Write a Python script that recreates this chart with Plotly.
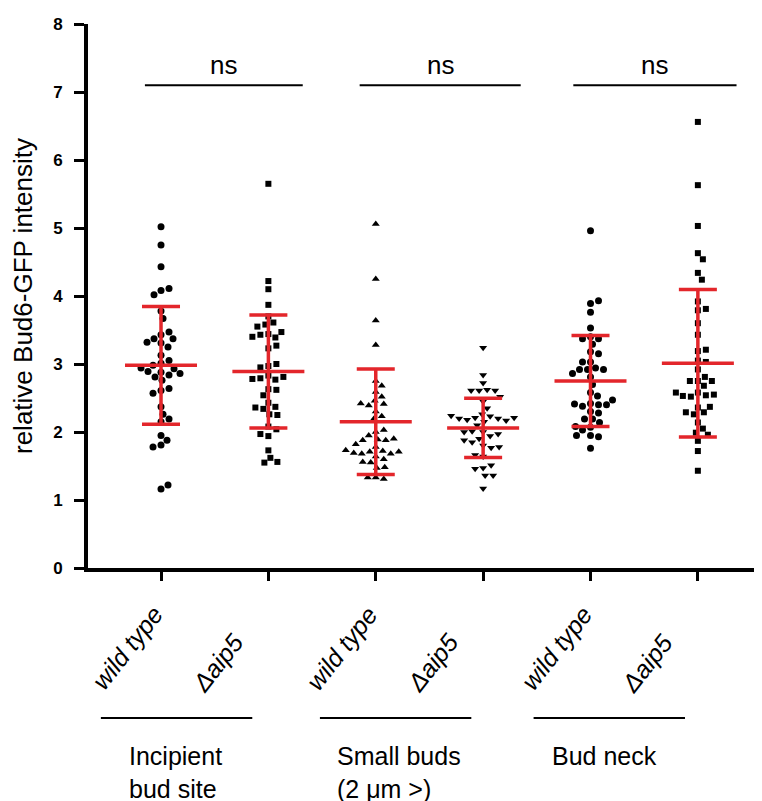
import plotly.graph_objects as go

# ---------------- data ----------------
categories = ["wild type", "Δaip5", "wild type", "Δaip5", "wild type", "Δaip5"]
groups = ["Incipient<br>bud site", "Small buds<br>(2 μm >)", "Bud neck"]

incipient_wt = [5.02, 4.75, 4.43, 4.08, 4.11, 4.02, 3.78, 3.67, 3.43, 3.47, 3.31, 3.37,
                3.37, 3.32, 3.25, 3.13, 3.01, 3.05, 2.98, 2.88, 2.84, 2.93, 2.89, 2.94,
                2.86, 2.81, 2.76, 2.61, 2.64, 2.57, 2.37, 2.26, 2.15, 2.19, 1.95, 1.88,
                1.81, 1.78, 1.16, 1.22]
incipient_ko = [5.65, 4.22, 4.10, 3.87, 3.70, 3.61, 3.58, 3.55, 3.44, 3.39, 3.43, 3.47,
                3.40, 3.23, 3.27, 2.97, 3.00, 2.95, 2.83, 2.77, 2.79, 2.81, 2.78, 2.63,
                2.62, 2.54, 2.43, 2.37, 2.34, 2.26, 2.36, 2.25, 2.08, 2.04, 1.94, 1.97,
                1.73, 1.62, 1.55, 1.56]
small_wt = [5.06, 4.25, 3.64, 3.28, 2.75, 2.68, 2.59, 2.52, 2.46, 2.41, 2.39, 2.42,
            2.30, 2.23, 2.19, 2.00, 2.03, 1.95, 1.89, 1.88, 1.88, 1.90, 1.78, 1.82,
            1.72, 1.71, 1.68, 1.64, 1.68, 1.69, 1.71, 1.73, 1.60, 1.55, 1.56, 1.47,
            1.48, 1.33, 1.31, 1.33]
small_ko = [3.24, 2.84, 2.72, 2.62, 2.61, 2.61, 2.61, 2.52, 2.45, 2.35, 2.26, 2.23,
            2.21, 2.15, 2.20, 2.18, 2.17, 2.20, 2.21, 2.24, 2.10, 2.00, 1.94, 2.01,
            1.97, 2.00, 1.90, 1.85, 1.88, 1.80, 1.77, 1.78, 1.64, 1.66, 1.47, 1.51,
            1.46, 1.36, 1.36, 1.17]
neck_wt = [4.96, 3.89, 3.93, 3.76, 3.53, 3.40, 3.37, 3.37, 3.29, 3.18, 3.15, 3.03,
           2.94, 2.92, 2.92, 2.92, 3.03, 2.86, 2.81, 2.70, 2.58, 2.53, 2.42, 2.40,
           2.38, 2.40, 2.41, 2.47, 2.30, 2.28, 2.19, 2.19, 2.14, 2.07, 2.03, 2.08,
           1.95, 1.93, 1.95, 1.76]
neck_ko = [6.56, 5.63, 5.03, 4.63, 4.54, 4.34, 4.24, 3.79, 3.81, 3.92, 3.60, 3.43,
           3.19, 3.21, 3.05, 3.03, 2.92, 2.75, 2.68, 2.75, 2.81, 2.75, 2.58, 2.54,
           2.52, 2.53, 2.55, 2.58, 2.36, 2.29, 2.26, 2.29, 2.37, 2.14, 2.05, 1.99,
           1.96, 1.87, 1.72, 1.43]
series = [incipient_wt, incipient_ko, small_wt, small_ko, neck_wt, neck_ko]
symbols = ["circle", "square", "triangle-up", "triangle-down", "circle", "square"]

means = [2.98, 2.89, 2.15, 2.06, 2.75, 3.01]
sds = [0.865, 0.83, 0.775, 0.435, 0.67, 1.085]

y_ticks = [0, 1, 2, 3, 4, 5, 6, 7, 8]
ns_text = ["ns", "ns", "ns"]

# ---------------- layout constants ----------------
# page body has an 8px margin, so the figure is a little smaller than the window
W, H = 754, 793
ML, MR, MT, MB = 80, 4, 16, 233
XR = [-0.68, 5.56]
YR = [0, 8]
plot_w = W - ML - MR
plot_h = H - MT - MB
px_per_cat = plot_w / (XR[1] - XR[0])
px_per_unit = plot_h / (YR[1] - YR[0])
RED = "#e3262b"
FONT = "Liberation Sans, Arial, sans-serif"


def beeswarm(values, dist=7.6, step=1.0, maxoff=80):
    placed = []
    offs = []
    for v in values:
        ypx = v * px_per_unit
        k = 0
        chosen = 0.0
        while k * step <= maxoff:
            cands = [0.0] if k == 0 else [k * step, -k * step]
            ok_c = None
            for c in cands:
                if all((c - px) ** 2 + (ypx - py) ** 2 >= dist ** 2 for px, py in placed):
                    ok_c = c
                    break
            if ok_c is not None:
                chosen = ok_c
                break
            k += 1
        placed.append((chosen, ypx))
        offs.append(chosen / px_per_cat)
    return offs


fig = go.Figure()

for i, (vals, sym) in enumerate(zip(series, symbols)):
    offs = beeswarm(vals)
    size = 7 if sym != "square" else 6
    fig.add_trace(go.Scatter(
        x=[i + o for o in offs], y=vals, mode="markers",
        marker=dict(symbol=sym, size=size, color="black", line=dict(width=0)),
        showlegend=False, hoverinfo="y"))

# SD error bars
fig.add_trace(go.Scatter(
    x=list(range(len(means))), y=means, mode="markers",
    marker=dict(size=1, color=RED, opacity=0),
    error_y=dict(type="data", array=sds, visible=True, color=RED, thickness=3.5, width=19),
    showlegend=False, hoverinfo="skip"))

# mean lines
mx, my = [], []
half = 36 / px_per_cat
for i, m in enumerate(means):
    mx += [i - half, i + half, None]
    my += [m, m, None]
fig.add_trace(go.Scatter(x=mx, y=my, mode="lines",
                         line=dict(color=RED, width=3.5),
                         showlegend=False, hoverinfo="skip"))

# ns comparison lines
ns_spans = [(-0.15, 1.32), (1.85, 3.35), (3.84, 5.36)]
for (a, b), t in zip(ns_spans, ns_text):
    fig.add_shape(type="line", xref="x", yref="y", x0=a, x1=b, y0=7.1, y1=7.1,
                  line=dict(color="black", width=2))
    fig.add_annotation(x=(a + b) / 2, y=7.4, xref="x", yref="y", text=t,
                       showarrow=False, font=dict(family=FONT, size=26, color="black"))

# category labels (rotated, italic)
for i, c in enumerate(categories):
    is_wt = (i % 2 == 0)
    fig.add_annotation(
        x=i, xref="x", xshift=-34 if is_wt else -51,
        y=(-80 if is_wt else -95) / plot_h, yref="paper",
        text="<i>%s</i>" % c, textangle=-52, showarrow=False,
        xanchor="center", yanchor="middle",
        font=dict(family=FONT, size=25, color="black"))

# group lines and labels
grp_spans = [(-0.56, 0.85), (1.48, 2.89), (3.47, 4.88)]
grp_text_x = [-0.32, 1.62, 3.62]
for (a, b), gx, g in zip(grp_spans, grp_text_x, groups):
    fig.add_shape(type="line", xref="x", yref="paper", x0=a, x1=b,
                  y0=-150 / plot_h, y1=-150 / plot_h,
                  line=dict(color="black", width=2))
    fig.add_annotation(x=gx, xref="x", y=-172 / plot_h, yref="paper", text=g,
                       showarrow=False, xanchor="left", yanchor="top", align="left",
                       font=dict(family=FONT, size=25, color="black"))

# y-axis title
fig.add_annotation(x=(23 - 88) / plot_w, xref="paper", y=0.5, yref="paper",
                   text="relative Bud6-GFP intensity", textangle=-90, showarrow=False,
                   xanchor="center", yanchor="middle",
                   font=dict(family=FONT, size=26, color="black"))

fig.update_layout(
    width=W, height=H, margin=dict(l=ML, r=MR, t=MT, b=MB),
    plot_bgcolor="white", paper_bgcolor="white",
    xaxis=dict(range=XR, tickmode="array", tickvals=list(range(len(categories))),
               ticktext=[""] * len(categories), ticks="outside", ticklen=9, tickwidth=3,
               tickcolor="black", showline=True, linewidth=4, linecolor="black",
               showgrid=False, zeroline=False, fixedrange=True),
    yaxis=dict(range=YR, tickmode="array", tickvals=y_ticks,
               ticktext=[str(t) for t in y_ticks], ticks="outside", ticklen=10,
               tickwidth=3, tickcolor="black", showline=True, linewidth=4,
               linecolor="black", showgrid=False, zeroline=False, ticklabelstandoff=8,
               tickfont=dict(family=FONT, size=17, color="black", weight="bold"),
               fixedrange=True),
)

fig.write_html("out.html")
